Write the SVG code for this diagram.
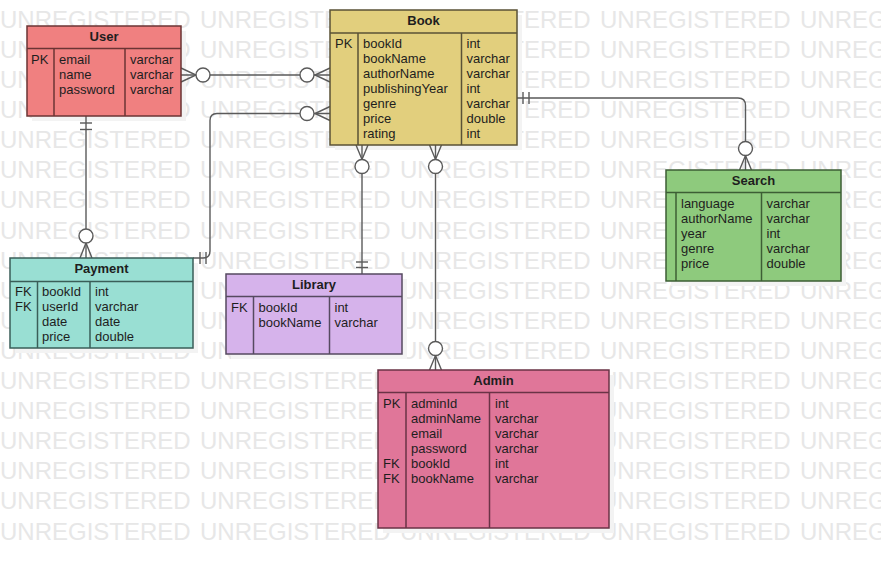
<svg xmlns="http://www.w3.org/2000/svg" width="881" height="569" viewBox="0 0 881 569">
  <defs>
    <style>
      text { font-family: "Liberation Sans", Arial, sans-serif; font-size: 13px; fill: #1e1e1e; }
      .wm { font-size: 24px; fill: #e7e7e7; }
      .title { font-weight: bold; text-anchor: middle; }
      .shadow { fill: #f3f3f3; stroke: none; }
      .div { stroke-width: 1.5; fill: none; }
      .conn { fill: none; stroke: #5a5a5a; stroke-width: 1.4; }
      .ring { fill: #ffffff; stroke: #5a5a5a; stroke-width: 1.4; }
      #user rect.box { fill: #f08080; stroke: #6b3434; stroke-width: 1.5; }
      #user line { stroke: #6b3434; }
      #book rect.box { fill: #e2cf7d; stroke: #5a5236; stroke-width: 1.5; }
      #book line { stroke: #5a5236; }
      #search rect.box { fill: #8eca7d; stroke: #3d5e35; stroke-width: 1.5; }
      #search line { stroke: #3d5e35; }
      #payment rect.box { fill: #99dfd3; stroke: #3a5e58; stroke-width: 1.5; }
      #payment line { stroke: #3a5e58; }
      #library rect.box { fill: #d6b3eb; stroke: #564a60; stroke-width: 1.5; }
      #library line { stroke: #564a60; }
      #admin rect.box { fill: #e07699; stroke: #6a3346; stroke-width: 1.5; }
      #admin line { stroke: #6a3346; }
    </style>
  </defs>

  <rect width="881" height="569" fill="#ffffff"/>

  <!-- watermark rows -->
  <g id="watermark">
    <text class="wm" x="0" y="28">UNREGISTERED</text><text class="wm" x="200" y="28">UNREGISTERED</text><text class="wm" x="400" y="28">UNREGISTERED</text><text class="wm" x="600" y="28">UNREGISTERED</text><text class="wm" x="800" y="28">UNREGISTERED</text>
    <text class="wm" x="0" y="58">UNREGISTERED</text><text class="wm" x="200" y="58">UNREGISTERED</text><text class="wm" x="400" y="58">UNREGISTERED</text><text class="wm" x="600" y="58">UNREGISTERED</text><text class="wm" x="800" y="58">UNREGISTERED</text>
    <text class="wm" x="0" y="88">UNREGISTERED</text><text class="wm" x="200" y="88">UNREGISTERED</text><text class="wm" x="400" y="88">UNREGISTERED</text><text class="wm" x="600" y="88">UNREGISTERED</text><text class="wm" x="800" y="88">UNREGISTERED</text>
    <text class="wm" x="0" y="118">UNREGISTERED</text><text class="wm" x="200" y="118">UNREGISTERED</text><text class="wm" x="400" y="118">UNREGISTERED</text><text class="wm" x="600" y="118">UNREGISTERED</text><text class="wm" x="800" y="118">UNREGISTERED</text>
    <text class="wm" x="0" y="148">UNREGISTERED</text><text class="wm" x="200" y="148">UNREGISTERED</text><text class="wm" x="400" y="148">UNREGISTERED</text><text class="wm" x="600" y="148">UNREGISTERED</text><text class="wm" x="800" y="148">UNREGISTERED</text>
    <text class="wm" x="0" y="178">UNREGISTERED</text><text class="wm" x="200" y="178">UNREGISTERED</text><text class="wm" x="400" y="178">UNREGISTERED</text><text class="wm" x="600" y="178">UNREGISTERED</text><text class="wm" x="800" y="178">UNREGISTERED</text>
    <text class="wm" x="0" y="208">UNREGISTERED</text><text class="wm" x="200" y="208">UNREGISTERED</text><text class="wm" x="400" y="208">UNREGISTERED</text><text class="wm" x="600" y="208">UNREGISTERED</text><text class="wm" x="800" y="208">UNREGISTERED</text>
    <text class="wm" x="0" y="239">UNREGISTERED</text><text class="wm" x="200" y="239">UNREGISTERED</text><text class="wm" x="400" y="239">UNREGISTERED</text><text class="wm" x="600" y="239">UNREGISTERED</text><text class="wm" x="800" y="239">UNREGISTERED</text>
    <text class="wm" x="0" y="269">UNREGISTERED</text><text class="wm" x="200" y="269">UNREGISTERED</text><text class="wm" x="400" y="269">UNREGISTERED</text><text class="wm" x="600" y="269">UNREGISTERED</text><text class="wm" x="800" y="269">UNREGISTERED</text>
    <text class="wm" x="0" y="299">UNREGISTERED</text><text class="wm" x="200" y="299">UNREGISTERED</text><text class="wm" x="400" y="299">UNREGISTERED</text><text class="wm" x="600" y="299">UNREGISTERED</text><text class="wm" x="800" y="299">UNREGISTERED</text>
    <text class="wm" x="0" y="329">UNREGISTERED</text><text class="wm" x="200" y="329">UNREGISTERED</text><text class="wm" x="400" y="329">UNREGISTERED</text><text class="wm" x="600" y="329">UNREGISTERED</text><text class="wm" x="800" y="329">UNREGISTERED</text>
    <text class="wm" x="0" y="359">UNREGISTERED</text><text class="wm" x="200" y="359">UNREGISTERED</text><text class="wm" x="400" y="359">UNREGISTERED</text><text class="wm" x="600" y="359">UNREGISTERED</text><text class="wm" x="800" y="359">UNREGISTERED</text>
    <text class="wm" x="0" y="389">UNREGISTERED</text><text class="wm" x="200" y="389">UNREGISTERED</text><text class="wm" x="400" y="389">UNREGISTERED</text><text class="wm" x="600" y="389">UNREGISTERED</text><text class="wm" x="800" y="389">UNREGISTERED</text>
    <text class="wm" x="0" y="419">UNREGISTERED</text><text class="wm" x="200" y="419">UNREGISTERED</text><text class="wm" x="400" y="419">UNREGISTERED</text><text class="wm" x="600" y="419">UNREGISTERED</text><text class="wm" x="800" y="419">UNREGISTERED</text>
    <text class="wm" x="0" y="449">UNREGISTERED</text><text class="wm" x="200" y="449">UNREGISTERED</text><text class="wm" x="400" y="449">UNREGISTERED</text><text class="wm" x="600" y="449">UNREGISTERED</text><text class="wm" x="800" y="449">UNREGISTERED</text>
    <text class="wm" x="0" y="479">UNREGISTERED</text><text class="wm" x="200" y="479">UNREGISTERED</text><text class="wm" x="400" y="479">UNREGISTERED</text><text class="wm" x="600" y="479">UNREGISTERED</text><text class="wm" x="800" y="479">UNREGISTERED</text>
    <text class="wm" x="0" y="509">UNREGISTERED</text><text class="wm" x="200" y="509">UNREGISTERED</text><text class="wm" x="400" y="509">UNREGISTERED</text><text class="wm" x="600" y="509">UNREGISTERED</text><text class="wm" x="800" y="509">UNREGISTERED</text>
    <text class="wm" x="0" y="540">UNREGISTERED</text><text class="wm" x="200" y="540">UNREGISTERED</text><text class="wm" x="400" y="540">UNREGISTERED</text><text class="wm" x="600" y="540">UNREGISTERED</text><text class="wm" x="800" y="540">UNREGISTERED</text>
  </g>

  <!-- box shadows -->
  <g id="shadows">
    <rect class="shadow" x="32" y="31" width="154" height="90"/>
    <rect class="shadow" x="335" y="15" width="187" height="135"/>
    <rect class="shadow" x="671" y="175" width="175" height="111"/>
    <rect class="shadow" x="15" y="263" width="183" height="90"/>
    <rect class="shadow" x="231" y="279" width="176" height="80"/>
    <rect class="shadow" x="383" y="375" width="231" height="158"/>
  </g>

  <!-- relationships -->
  <g id="connectors">
    <!-- User (zero-many) to Book (zero-many) -->
    <g id="user-book">
      <line class="conn" x1="181" y1="75" x2="330" y2="75"/>
      <path class="conn" d="M181,68 L196,75 L181,82"/>
      <circle class="ring" cx="203" cy="75" r="7"/>
      <path class="conn" d="M330,68 L315,75 L330,82"/>
      <circle class="ring" cx="307" cy="75" r="7"/>
    </g>
    <!-- Book (zero-many) to Payment (one) -->
    <g id="book-payment">
      <path class="conn" d="M330,113.5 H217 Q210,113.5 210,120.5 V251 Q210,258 203,258 H193"/>
      <path class="conn" d="M330,106.5 L315,113.5 L330,120.5"/>
      <circle class="ring" cx="307" cy="113.5" r="7"/>
      <line class="conn" x1="200" y1="252" x2="200" y2="264"/>
      <line class="conn" x1="206" y1="252" x2="206" y2="264"/>
    </g>
    <!-- User (one) to Payment (zero-many) -->
    <g id="user-payment">
      <line class="conn" x1="86" y1="116" x2="86" y2="258"/>
      <line class="conn" x1="80" y1="123" x2="92" y2="123"/>
      <line class="conn" x1="80" y1="129.5" x2="92" y2="129.5"/>
      <path class="conn" d="M80,258 L86,243 L92,258"/>
      <circle class="ring" cx="86" cy="236" r="7"/>
    </g>
    <!-- Book (zero-many) to Library (one) -->
    <g id="book-library">
      <line class="conn" x1="362" y1="145" x2="362" y2="274"/>
      <path class="conn" d="M356,145 L362,159.5 L368,145"/>
      <circle class="ring" cx="362" cy="166.5" r="7"/>
      <line class="conn" x1="356" y1="262" x2="368" y2="262"/>
      <line class="conn" x1="356" y1="267.5" x2="368" y2="267.5"/>
    </g>
    <!-- Book (zero-many) to Admin (zero-many) -->
    <g id="book-admin">
      <line class="conn" x1="435.5" y1="145" x2="435.5" y2="370"/>
      <path class="conn" d="M429.5,145 L435.5,159.5 L441.5,145"/>
      <circle class="ring" cx="435.5" cy="166.5" r="7"/>
      <path class="conn" d="M429.5,370 L435.5,355.5 L441.5,370"/>
      <circle class="ring" cx="435.5" cy="348.5" r="7"/>
    </g>
    <!-- Book (one) to Search (zero-many) -->
    <g id="book-search">
      <path class="conn" d="M517,98 H738 Q745.5,98 745.5,105.5 V170"/>
      <line class="conn" x1="523" y1="92" x2="523" y2="104"/>
      <line class="conn" x1="529" y1="92" x2="529" y2="104"/>
      <path class="conn" d="M739.5,170 L745.5,155.5 L751.5,170"/>
      <circle class="ring" cx="745.5" cy="148.5" r="7"/>
    </g>
  </g>

  <!-- entities -->
  <g id="user">
    <rect class="box" x="27" y="26" width="154" height="90"/>
    <line class="div" x1="27" y1="48.5" x2="181" y2="48.5"/>
    <line class="div" x1="54" y1="48.5" x2="54" y2="116"/>
    <line class="div" x1="125" y1="48.5" x2="125" y2="116"/>
    <text class="title" x="104" y="41">User</text>
    <text x="31" y="64">PK</text>
    <text x="59" y="64">email</text><text x="130" y="64">varchar</text>
    <text x="59" y="79">name</text><text x="130" y="79">varchar</text>
    <text x="59" y="94">password</text><text x="130" y="94">varchar</text>
  </g>

  <g id="book">
    <rect class="box" x="330" y="10" width="187" height="135"/>
    <line class="div" x1="330" y1="33" x2="517" y2="33"/>
    <line class="div" x1="358" y1="33" x2="358" y2="145"/>
    <line class="div" x1="461.5" y1="33" x2="461.5" y2="145"/>
    <text class="title" x="423.5" y="25">Book</text>
    <text x="335" y="48">PK</text>
    <text x="363" y="48">bookId</text><text x="466.5" y="48">int</text>
    <text x="363" y="63">bookName</text><text x="466.5" y="63">varchar</text>
    <text x="363" y="78">authorName</text><text x="466.5" y="78">varchar</text>
    <text x="363" y="93">publishingYear</text><text x="466.5" y="93">int</text>
    <text x="363" y="108">genre</text><text x="466.5" y="108">varchar</text>
    <text x="363" y="123">price</text><text x="466.5" y="123">double</text>
    <text x="363" y="138">rating</text><text x="466.5" y="138">int</text>
  </g>

  <g id="search">
    <rect class="box" x="666" y="170" width="175" height="111"/>
    <line class="div" x1="666" y1="192.5" x2="841" y2="192.5"/>
    <line class="div" x1="676" y1="192.5" x2="676" y2="281"/>
    <line class="div" x1="761.5" y1="192.5" x2="761.5" y2="281"/>
    <text class="title" x="753.5" y="185">Search</text>
    <text x="681" y="208">language</text><text x="766.5" y="208">varchar</text>
    <text x="681" y="223">authorName</text><text x="766.5" y="223">varchar</text>
    <text x="681" y="238">year</text><text x="766.5" y="238">int</text>
    <text x="681" y="253">genre</text><text x="766.5" y="253">varchar</text>
    <text x="681" y="268">price</text><text x="766.5" y="268">double</text>
  </g>

  <g id="payment">
    <rect class="box" x="10" y="258" width="183" height="90"/>
    <line class="div" x1="10" y1="281.5" x2="193" y2="281.5"/>
    <line class="div" x1="37.5" y1="281.5" x2="37.5" y2="348"/>
    <line class="div" x1="90" y1="281.5" x2="90" y2="348"/>
    <text class="title" x="101.5" y="273">Payment</text>
    <text x="15" y="296">FK</text>
    <text x="15" y="311">FK</text>
    <text x="42" y="296">bookId</text><text x="95" y="296">int</text>
    <text x="42" y="311">userId</text><text x="95" y="311">varchar</text>
    <text x="42" y="326">date</text><text x="95" y="326">date</text>
    <text x="42" y="341">price</text><text x="95" y="341">double</text>
  </g>

  <g id="library">
    <rect class="box" x="226" y="274" width="176" height="80"/>
    <line class="div" x1="226" y1="296.5" x2="402" y2="296.5"/>
    <line class="div" x1="253.5" y1="296.5" x2="253.5" y2="354"/>
    <line class="div" x1="329.5" y1="296.5" x2="329.5" y2="354"/>
    <text class="title" x="314" y="289">Library</text>
    <text x="231" y="312">FK</text>
    <text x="258.5" y="312">bookId</text><text x="334.5" y="312">int</text>
    <text x="258.5" y="327">bookName</text><text x="334.5" y="327">varchar</text>
  </g>

  <g id="admin">
    <rect class="box" x="378" y="370" width="231" height="158"/>
    <line class="div" x1="378" y1="392.5" x2="609" y2="392.5"/>
    <line class="div" x1="406" y1="392.5" x2="406" y2="528"/>
    <line class="div" x1="489.5" y1="392.5" x2="489.5" y2="528"/>
    <text class="title" x="493.5" y="385">Admin</text>
    <text x="383" y="408">PK</text>
    <text x="383" y="468">FK</text>
    <text x="383" y="483">FK</text>
    <text x="411" y="408">adminId</text><text x="495" y="408">int</text>
    <text x="411" y="423">adminName</text><text x="495" y="423">varchar</text>
    <text x="411" y="438">email</text><text x="495" y="438">varchar</text>
    <text x="411" y="453">password</text><text x="495" y="453">varchar</text>
    <text x="411" y="468">bookId</text><text x="495" y="468">int</text>
    <text x="411" y="483">bookName</text><text x="495" y="483">varchar</text>
  </g>
</svg>
